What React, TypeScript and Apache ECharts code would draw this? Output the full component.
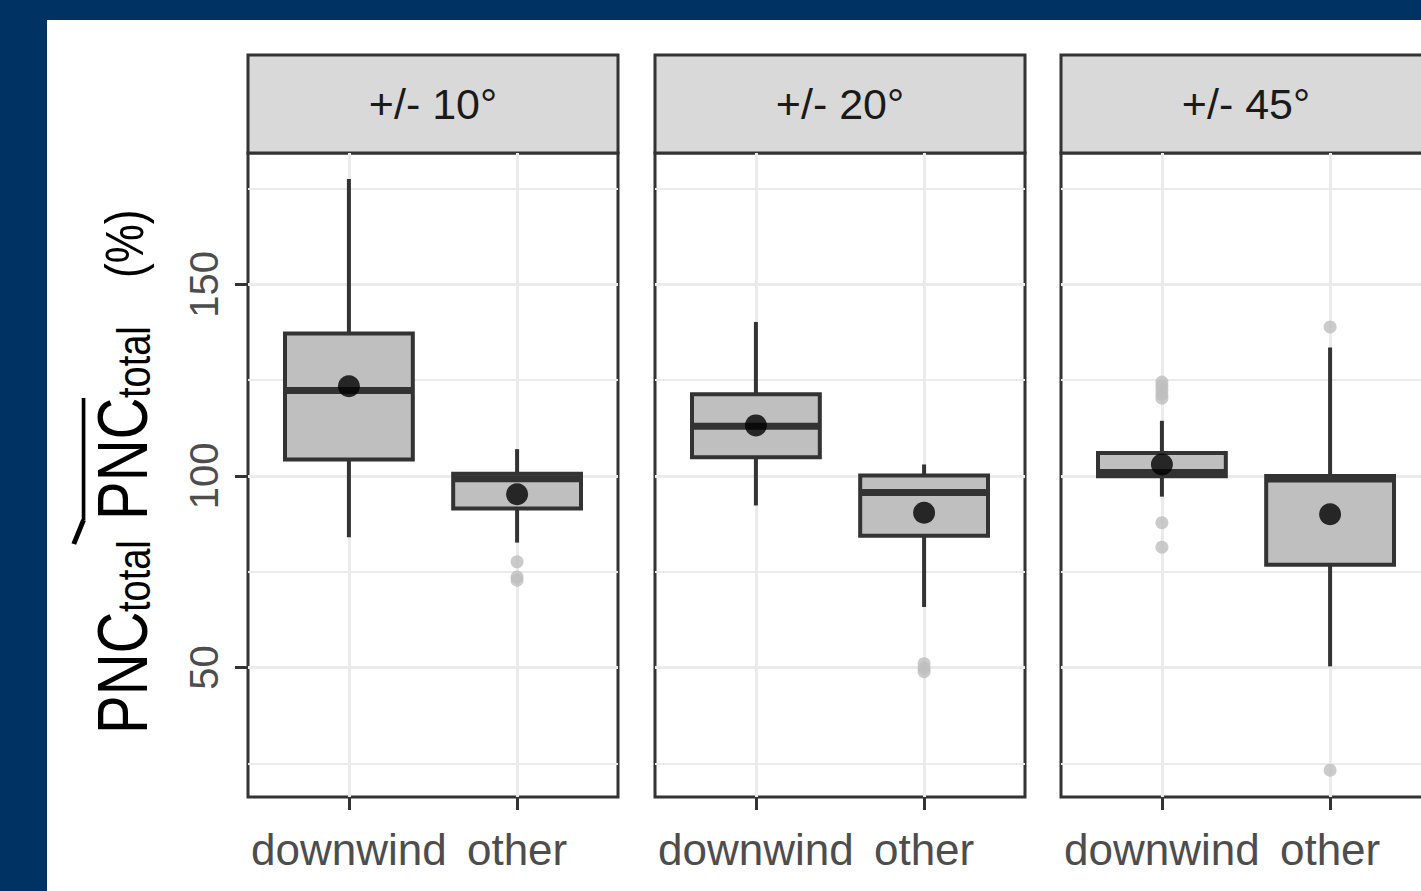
import React, { useEffect, useRef } from 'react';
import * as echarts from 'echarts';

const facets = ['+/- 10°', '+/- 20°', '+/- 45°'];
const categories = ['downwind', 'other'];
// [lower whisker, Q1, median, Q3, upper whisker] per category
const box10 = [[84.0, 104.3, 122.3, 137.2, 177.5], [82.6, 91.5, 99.3, 100.6, 107.0]];
const box20 = [[92.3, 104.9, 113.0, 121.3, 140.2], [65.8, 84.4, 95.7, 100.1, 103.0]];
const box45 = [[94.6, 99.9, 100.9, 106.0, 114.4], [50.3, 76.8, 99.2, 100.0, 133.5]];
const mean10 = [123.4, 95.2];
const mean20 = [113.2, 90.4];
const mean45 = [103.0, 90.0];
const outliers10 = [[], [77.6, 73.6, 72.8]];
const outliers20 = [[], [51.0, 49.8, 48.9]];
const outliers45 = [[124.5, 123.5, 122.4, 121.2, 120.3, 87.8, 81.4], [138.9, 23.2]];
const yTicks = [50, 100, 150];
const yMinorTicks = [25, 75, 125, 175];
const yMin = 16.2;
const yMax = 184.3;

const boxes = [box10, box20, box45];
const means = [mean10, mean20, mean45];
const outliers = [outliers10, outliers20, outliers45];

const FONT = '"Liberation Sans", Arial, Helvetica, sans-serif';
const GRID_LEFT = [201, 608, 1014];
const GRID_TOP = 133;
const GRID_W = 370;
const GRID_H = 644;

export default function App() {
  const ref = useRef<HTMLDivElement>(null);
  useEffect(() => {
    if (!ref.current) return;
    const chart = echarts.init(ref.current, null, { renderer: 'svg' });

    const grids: any[] = [];
    const xAxes: any[] = [];
    const yAxes: any[] = [];
    const series: any[] = [];
    const graphic: any[] = [];

    facets.forEach((f, i) => {
      grids.push({
        left: GRID_LEFT[i], top: GRID_TOP, width: GRID_W, height: GRID_H,
        show: true, borderColor: '#333333', borderWidth: 3, backgroundColor: '#ffffff',
      });
      xAxes.push({
        type: 'value', gridIndex: i, min: 0.4, max: 2.6,
        axisLine: { show: false },
        axisTick: { show: true, customValues: [1, 2], length: 13, lineStyle: { color: '#333333', width: 3 } },
        axisLabel: {
          show: true, customValues: [1, 2], margin: 30,
          formatter: (v: number) => categories[Math.round(v) - 1] ?? '',
          fontSize: 44, color: '#4D4D4D', fontFamily: FONT,
        },
        splitLine: { show: true, lineStyle: { color: '#EBEBEB', width: 3 } },
      });
      yAxes.push({
        type: 'value', gridIndex: i, min: yMin, max: yMax,
        axisLine: { show: false },
        axisTick: { show: i === 0, customValues: yTicks, length: 13, lineStyle: { color: '#333333', width: 3 } },
        axisLabel: {
          show: i === 0, customValues: yTicks, rotate: 90, margin: 24,
          fontSize: 40, color: '#4D4D4D', fontFamily: FONT,
        },
        splitLine: { show: true, lineStyle: { color: '#EBEBEB', width: 3 } },
      });
      yAxes.push({
        type: 'value', gridIndex: i, min: yMin, max: yMax,
        axisLine: { show: false },
        axisTick: { show: false, customValues: yMinorTicks },
        axisLabel: { show: false, customValues: yMinorTicks },
        splitLine: { show: true, lineStyle: { color: '#EBEBEB', width: 2 } },
      });

      series.push({
        type: 'custom', xAxisIndex: i, yAxisIndex: 2 * i, z: 3,
        data: boxes[i].map((b, k) => [k + 1, ...b]),
        renderItem: (params: any, api: any) => {
          const x = api.value(0);
          const lo = api.coord([x, api.value(1)]);
          const q1 = api.coord([x, api.value(2)]);
          const med = api.coord([x, api.value(3)]);
          const q3 = api.coord([x, api.value(4)]);
          const hi = api.coord([x, api.value(5)]);
          const w = api.size([0.76, 0])[0];
          const cx = lo[0];
          const stroke = '#333333';
          return {
            type: 'group',
            children: [
              { type: 'line', shape: { x1: cx, y1: q3[1], x2: cx, y2: hi[1] }, style: { stroke, lineWidth: 4 } },
              { type: 'line', shape: { x1: cx, y1: q1[1], x2: cx, y2: lo[1] }, style: { stroke, lineWidth: 4 } },
              { type: 'rect', shape: { x: cx - w / 2, y: q3[1], width: w, height: q1[1] - q3[1] }, style: { fill: '#BFBFBF', stroke, lineWidth: 4 } },
              { type: 'line', shape: { x1: cx - w / 2, y1: med[1], x2: cx + w / 2, y2: med[1] }, style: { stroke, lineWidth: 7 } },
            ],
          };
        },
      });
      const outData: number[][] = [];
      outliers[i].forEach((arr, k) => arr.forEach((v) => outData.push([k + 1, v])));
      series.push({
        type: 'scatter', xAxisIndex: i, yAxisIndex: 2 * i, z: 2,
        data: outData, symbolSize: 13, itemStyle: { color: '#BEBEBE' }, silent: true,
      });
      series.push({
        type: 'scatter', xAxisIndex: i, yAxisIndex: 2 * i, z: 5,
        data: means[i].map((m, k) => [k + 1, m]), symbolSize: 22, itemStyle: { color: '#000000' }, silent: true,
      });

      graphic.push({
        type: 'rect', shape: { x: GRID_LEFT[i], y: 35, width: GRID_W, height: 98 },
        style: { fill: '#D9D9D9', stroke: '#333333', lineWidth: 3 },
      });
      graphic.push({
        type: 'text', x: GRID_LEFT[i] + GRID_W / 2, y: 84,
        style: { text: f, fontSize: 43, fontFamily: FONT, fill: '#1A1A1A', align: 'center', verticalAlign: 'middle' },
      });
    });

    // Rotated y-axis title: PNC_total / overline(PNC)_total (%)
    const big = 58;
    const small = 38;
    const bigY = -0.35 * big;
    const subY = 3 - 0.35 * small;
    graphic.push({
      type: 'group', x: 100, y: 714, rotation: Math.PI / 2, scaleX: 1, scaleY: 1.22,
      children: [
        { type: 'text', x: 0, y: bigY, style: { text: 'PNC', fontSize: big, fontFamily: FONT, fill: '#000', align: 'left', verticalAlign: 'middle' } },
        { type: 'text', x: 122, y: subY, style: { text: 'total', fontSize: small, fontFamily: FONT, fill: '#000', align: 'left', verticalAlign: 'middle' } },
        { type: 'line', shape: { x1: 190, y1: -60, x2: 214, y2: -52 }, style: { stroke: '#000', lineWidth: 4 } },
        { type: 'line', shape: { x1: 214, y1: -52, x2: 336, y2: -52 }, style: { stroke: '#000', lineWidth: 3 } },
        { type: 'text', x: 214, y: bigY, style: { text: 'PNC', fontSize: big, fontFamily: FONT, fill: '#000', align: 'left', verticalAlign: 'middle' } },
        { type: 'text', x: 336, y: subY, style: { text: 'total', fontSize: small, fontFamily: FONT, fill: '#000', align: 'left', verticalAlign: 'middle' } },
        { type: 'text', x: 456, y: bigY + 2, style: { text: '(%)', fontSize: 44, fontFamily: FONT, fill: '#000', align: 'left', verticalAlign: 'middle' } },
      ],
    });

    chart.setOption({
      animation: false,
      backgroundColor: '#ffffff',
      grid: grids,
      xAxis: xAxes,
      yAxis: yAxes,
      series,
      graphic,
    });
    return () => chart.dispose();
  }, []);

  return (
    <div style={{ position: 'fixed', left: 0, top: 0, width: 1421, height: 891, background: '#003264', overflow: 'hidden' }}>
      <div ref={ref} style={{ position: 'absolute', left: 47, top: 20, width: 1400, height: 871 }} />
    </div>
  );
}
